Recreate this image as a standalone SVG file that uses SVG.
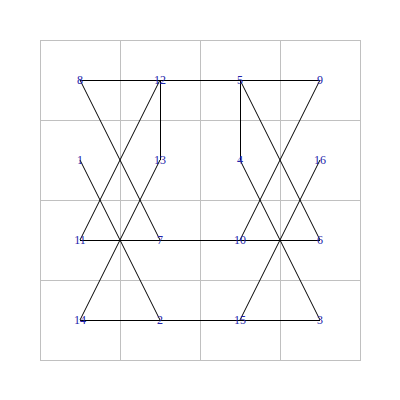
<svg xmlns="http://www.w3.org/2000/svg" width="400" height="400" viewBox="0 0 400 400">
<style>
.grid{stroke:#c0c0c0;stroke-width:1;fill:none}
.edge{stroke:#000;stroke-width:1;fill:none}
.lbl{font-family:"Liberation Serif",serif;font-size:12px;fill:#2222aa;text-anchor:middle}
</style>
<rect width="400" height="400" fill="#fff"/>
<g id="grid" class="grid">
<rect x="40.5" y="40.5" width="320" height="320"/>
<line x1="120.5" y1="40" x2="120.5" y2="360"/>
<line x1="200.5" y1="40" x2="200.5" y2="360"/>
<line x1="280.5" y1="40" x2="280.5" y2="360"/>
<line x1="40" y1="120.5" x2="360" y2="120.5"/>
<line x1="40" y1="200.5" x2="360" y2="200.5"/>
<line x1="40" y1="280.5" x2="360" y2="280.5"/>
</g>
<g id="connectors" class="edge">
<line x1="80" y1="80.5" x2="320" y2="80.5"/>
<line x1="80" y1="240.5" x2="320" y2="240.5"/>
<line x1="80" y1="320.5" x2="320" y2="320.5"/>
<line x1="160.5" y1="80" x2="160.5" y2="160"/>
<line x1="240.5" y1="80" x2="240.5" y2="160"/>
<line x1="80" y1="80" x2="160" y2="240"/>
<line x1="160" y1="80" x2="80" y2="240"/>
<line x1="80" y1="160" x2="160" y2="320"/>
<line x1="160" y1="160" x2="80" y2="320"/>
<line x1="240" y1="80" x2="320" y2="240"/>
<line x1="320" y1="80" x2="240" y2="240"/>
<line x1="240" y1="160" x2="320" y2="320"/>
<line x1="320" y1="160" x2="240" y2="320"/>
</g>
<g id="n8"><text class="lbl" x="80" y="84">8</text></g>
<g id="n12"><text class="lbl" x="160" y="84">12</text></g>
<g id="n5"><text class="lbl" x="240" y="84">5</text></g>
<g id="n9"><text class="lbl" x="320" y="84">9</text></g>
<g id="n1"><text class="lbl" x="80" y="164">1</text></g>
<g id="n13"><text class="lbl" x="160" y="164">13</text></g>
<g id="n4"><text class="lbl" x="240" y="164">4</text></g>
<g id="n16"><text class="lbl" x="320" y="164">16</text></g>
<g id="n11"><text class="lbl" x="80" y="244">11</text></g>
<g id="n7"><text class="lbl" x="160" y="244">7</text></g>
<g id="n10"><text class="lbl" x="240" y="244">10</text></g>
<g id="n6"><text class="lbl" x="320" y="244">6</text></g>
<g id="n14"><text class="lbl" x="80" y="324">14</text></g>
<g id="n2"><text class="lbl" x="160" y="324">2</text></g>
<g id="n15"><text class="lbl" x="240" y="324">15</text></g>
<g id="n3"><text class="lbl" x="320" y="324">3</text></g>
</svg>
